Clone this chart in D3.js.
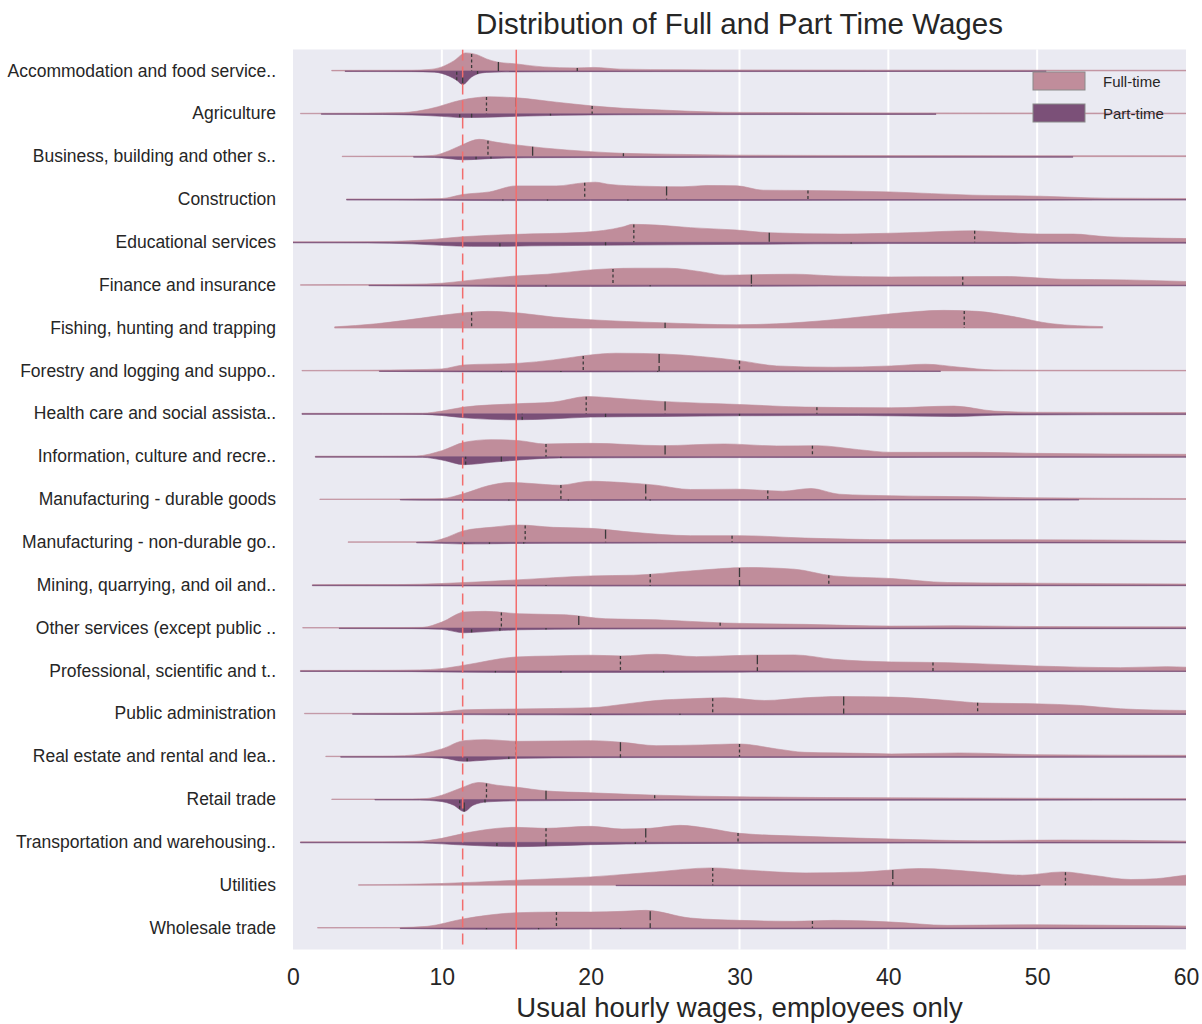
<!DOCTYPE html>
<html><head><meta charset="utf-8">
<script src="https://cdn.jsdelivr.net/npm/d3@7/dist/d3.min.js"></script>
<style>
html,body{margin:0;padding:0;background:#fff;}
svg{display:block;font-family:Arial,"Liberation Sans",Helvetica,sans-serif;}
</style></head>
<body><svg id="chart" width="1202" height="1024"></svg>
<script>
const categories = [
  "Accommodation and food service..","Agriculture","Business, building and other s..","Construction",
  "Educational services","Finance and insurance","Fishing, hunting and trapping","Forestry and logging and suppo..",
  "Health care and social assista..","Information, culture and recre..","Manufacturing - durable goods",
  "Manufacturing - non-durable go..","Mining, quarrying, and oil and..","Other services (except public ..",
  "Professional, scientific and t..","Public administration","Real estate and rental and lea..",
  "Retail trade","Transportation and warehousing..","Utilities","Wholesale trade"
];
const seriesNames = ["Full-time","Part-time"];
const xTicks = [0,10,20,30,40,50,60];
const minimumWage = 11.4;
const livingWage = 15;

// Full-time density profiles: [wage, density] knots (upper half)
const fullTimeDensity = [
  [[2.6,0.6],[8,0.7],[9.2,1.5],[10,4],[10.8,10],[11.6,18],[12.4,16],[13,12],[13.7,9],[15,7],[16.8,4],[19,3],[20.2,3.5],[22,1.8],[26,1.2],[30,1],[40,0.8],[60,0.7]],
  [[0.5,0.5],[5,0.7],[7.4,1.2],[9.2,5],[11.4,14],[13.2,17],[15,16],[17.7,11.6],[20,8],[22.2,5.5],[24.4,4],[26.7,2.5],[28.9,1.5],[35,1.1],[45,0.9],[60,0.7]],
  [[3.3,0.5],[8,0.6],[9.4,1.2],[10.5,6],[11.4,12],[12.5,17.3],[13.7,14.3],[15,11.7],[16.8,8.7],[20,5],[22.2,3.3],[25,2.5],[30,1.5],[40,1.1],[60,0.9]],
  [[3.6,0.6],[8,0.6],[10,1],[11.4,5],[13.2,7.6],[15,13.6],[17.7,13.6],[19.5,16.6],[20.3,17.3],[21.3,15],[23.5,13.3],[26.2,12.7],[27.8,14],[29.8,13.7],[31.6,9.3],[34.5,9],[40.1,7.6],[45.7,4.3],[50.2,3.3],[54.7,1.3],[60,1]],
  [[0,0.5],[4,0.6],[6.5,0.9],[9,2.5],[11.4,5.6],[15,8],[19.5,10],[22.2,15.6],[22.8,18],[24.4,17.3],[26.7,14.7],[29.8,12.3],[32,9.6],[36.8,8.3],[41.3,9.6],[45.7,11.6],[47,10.6],[50.2,8.3],[52.4,8.3],[54.7,5.6],[59.1,4],[60,3.8]],
  [[0.5,0.5],[5,0.6],[8,1],[10,2],[11.5,4.3],[15,9.3],[17.1,11],[20,15.3],[22.9,17],[25.2,17],[27.5,13.3],[29,10],[31,10.5],[33.7,11],[36.3,9.3],[40.2,8.3],[44,8.5],[47.9,8.7],[51.7,6],[56,5.3],[60,3.7]],
  [[2.8,1.2],[5.6,4.3],[7.5,7.7],[10,12.7],[11.5,15.3],[13.1,16.7],[15.2,15],[17.5,11],[20,8.3],[24.8,5.3],[29.8,3.3],[32.5,4.3],[36.3,8.3],[40.2,14.3],[43.7,17.7],[46,16.7],[48.3,11.7],[51,4.3],[54.4,1.5]],
  [[0.6,0.5],[5,0.7],[8,1.2],[10,2],[11.5,6],[15.2,7.7],[17.5,11],[20,16],[21.7,17.7],[24.8,17],[27.5,14.3],[30,10.3],[32.5,5],[36.3,3.7],[40.2,5],[42.5,6.7],[44.8,3.7],[47.1,1],[50,0.7],[60,0.6]],
  [[0.6,0.5],[6,0.5],[8.7,0.6],[10,2.7],[11.5,6.7],[15,10],[17.5,11.7],[19.8,17.3],[21.3,16],[24.8,12.3],[30,9.3],[34.4,6.7],[40.2,6],[44.4,7.7],[47.1,2.7],[49.8,1.5],[60,1.2]],
  [[1.5,0.5],[6,0.5],[8.3,0.7],[10,6],[11.5,14.3],[13.3,17],[15.2,16],[16.9,12.7],[20,13.3],[24.8,11],[29,12.7],[32.5,10.7],[35.2,11],[38,7],[40.2,4.3],[46,4.3],[49.8,3.3],[60,2.3]],
  [[1.8,0.5],[7.2,0.6],[9,0.7],[10,1],[11.5,6],[13.1,13.7],[14.6,17],[16,16],[17.9,14.3],[20,18.3],[22.1,17],[24.4,14.3],[26.7,10],[29.8,10.3],[32.9,8.3],[34.8,11],[36.7,5.3],[40.2,3.7],[46,2.7],[49.8,1.7],[60,1]],
  [[3.7,0.5],[8.3,0.6],[9.3,1],[10,3.3],[11.5,11.7],[13.3,15],[15.2,17.3],[17.5,15],[20,14],[22.9,10],[26.7,6.7],[30,6.7],[34.4,4.3],[40.2,2.7],[48.3,2.7],[60,1.7]],
  [[1.3,0.5],[7,0.6],[10,1.7],[15,5.3],[20,9.3],[22.9,10],[26.7,14.3],[30.6,17.7],[33.7,16],[36.3,9.3],[40.2,6.7],[44,2.7],[49.8,2],[60,1.2]],
  [[0.65,0.5],[3.1,0.5],[7,0.5],[8.7,0.7],[10,6],[11.5,16],[12.9,16.7],[15.2,14.3],[18.3,13.3],[21,9.3],[24.4,8.3],[29,5],[34.4,3.7],[40.2,2],[44.4,2.3],[50,1.5],[60,1.2]],
  [[0.5,0.5],[6,0.6],[8.5,1],[10,2.3],[11.5,5.7],[15,14],[17.5,15],[20,15.7],[22.1,15],[24.4,16.7],[27.1,14.3],[30.6,15.7],[33.7,16],[36.3,11.7],[40.2,9],[44,8.3],[49.8,5],[55.6,3.3],[58.7,4.3],[60,3.7]],
  [[0.77,0.5],[4,0.5],[8,0.8],[10,1.7],[11.5,4],[15,4.8],[20,6],[22.1,9.3],[24.4,13.3],[26.7,15],[29,16],[31.7,13.3],[34.4,16],[36.7,17.3],[40.2,16.7],[44,13.3],[46.3,10.7],[49.8,10],[52.9,8.3],[55.6,5],[60,3.3]],
  [[2.2,0.5],[3.2,0.5],[6,0.6],[7.5,1],[10,7.7],[11.5,16],[12.9,17],[15.2,15.3],[20,16],[22.1,14.3],[24.4,11],[27.5,11.7],[30,12.7],[32.5,7.7],[34.4,4.3],[38.3,3.3],[40.2,2.7],[44.8,3.7],[49.8,2],[60,1.3]],
  [[2.6,0.5],[5.5,0.5],[8,0.6],[9,1],[10,4.3],[11.2,11],[12.5,17],[13.7,14.3],[15.2,12],[16.9,8.7],[20,6.7],[24.4,4.3],[30,2.7],[40.2,1.7],[60,1]],
  [[0.5,0.5],[6,0.6],[8.3,1],[10,4],[11.5,9],[15,15],[16.9,14],[20,16],[22.1,13.3],[24,14],[26,17],[27.9,14],[30,9],[34.4,6],[40.2,3.3],[46,1.7],[51.7,2.3],[60,1.3]],
  [[4.4,0.5],[7,0.8],[10,1.7],[15,5],[20,8.3],[24.4,13.3],[28.1,17.3],[30.6,15],[34.4,12.3],[38.3,13.3],[42.1,16.7],[46,13.3],[49,10],[51.7,13.3],[53.7,10],[56.3,5.7],[58,6.5],[60,10],[62,12]],
  [[1.65,0.5],[7.2,0.6],[9,1.7],[11.5,9.3],[15,15.3],[17.7,16],[20,16],[22.1,16.7],[23.7,17.7],[26.7,10],[30,7.7],[33.7,6.7],[36.3,7.7],[40.2,6],[44,2.7],[49.8,3.3],[55.6,2.7],[60,2]]
];

// Part-time density profiles: [wage, density] knots (lower half)
const partTimeDensity = [
  [[3.5,0.6],[8,0.7],[9.5,1.2],[10,2.5],[11,9.3],[11.4,13.6],[12,6],[12.4,3],[13,1.5],[14,1],[20,0.7],[50.6,0.5]],
  [[1.9,0.5],[6,0.7],[8,1.2],[10,2.5],[11.5,3.8],[13,3.5],[15,2.5],[18,1.5],[22,1],[30,0.8],[43.2,0.6]],
  [[8.1,0.5],[9.5,0.8],[10.5,2],[11.5,3.2],[12.5,2.5],[14,1.5],[17,1],[25,0.8],[52.4,0.6]],
  [[3.6,0.6],[10,0.8],[14,1.1],[20,1],[30,0.9],[45,0.7],[60,0.6]],
  [[0,0.5],[5,0.6],[8,1.5],[10,3],[12,4],[14,4],[16,3.5],[20,3],[25,2.5],[30,2],[35,1.5],[40,1.2],[50,1],[60,0.8]],
  [[5.1,0.5],[10,0.9],[15,1.2],[20,1.2],[30,1],[40,0.8],[60,0.6]],
  null,
  [[5.8,0.5],[10,0.8],[15,1],[20,1],[30,0.8],[43.5,0.6]],
  [[0.6,0.5],[6,0.5],[8.7,0.6],[10,1.7],[11.5,4],[15,6],[17.5,5],[20,3.3],[24.8,2.7],[30,2],[38,1.7],[44.4,2.7],[47.9,1.2],[60,0.8]],
  [[1.5,0.5],[6,0.5],[8.7,0.7],[10,3.3],[11.5,8],[13.3,5.7],[15.2,3.3],[17.9,1.3],[25,1],[40,0.8],[60,0.6]],
  [[7.2,0.5],[10,0.8],[15,1.1],[20,1],[30,0.8],[52.8,0.6]],
  [[8.3,0.5],[10,1],[11.5,1.6],[13,1.5],[15,1.1],[20,0.9],[30,0.7],[60,0.6]],
  [[1.3,0.5],[10,0.7],[20,0.9],[30,0.8],[45,0.6],[60,0.5]],
  [[3.1,0.5],[8,0.6],[10,1.3],[11.5,4.7],[13.1,3.3],[15.2,1.7],[20,1],[30,0.8],[60,0.6]],
  [[0.5,0.5],[8,0.7],[10,1.1],[15,1.6],[20,1.5],[30,1.2],[40,0.9],[60,0.6]],
  [[4,0.5],[10,0.8],[15,1],[20,1.1],[30,1],[45,0.8],[60,0.6]],
  [[3.2,0.5],[8,0.6],[10,1.3],[11.5,4.7],[13.1,3.3],[15.2,1.7],[20,1],[30,0.8],[60,0.6]],
  [[5.5,0.5],[8.5,0.6],[9.8,1.7],[10.8,5.7],[11.5,12],[12.1,5.7],[13.1,2.3],[15.2,1.3],[25,0.8],[60,0.6]],
  [[0.5,0.5],[6,0.5],[8.7,0.7],[11.5,2.7],[15,4.3],[17.1,3.7],[20,2.3],[24.8,1.3],[35,0.8],[60,0.6]],
  [[21.7,0.5],[30,0.7],[40,0.7],[50.2,0.5]],
  [[7.2,0.5],[10,0.9],[13,1.3],[16,1.1],[20,0.9],[30,0.8],[60,0.6]]
];

// Quartiles [Q1, median, Q3]
const fullTimeQuartiles = [
  [12.0,13.8,19.1],[13.0,15.0,20.1],[13.1,16.1,22.2],[19.6,25.1,34.6],[22.9,32.0,45.8],[21.5,30.8,45.0],
  [12.0,25.0,45.1],[19.5,24.6,30.0],[19.7,25.0,35.2],[17.0,25.0,34.9],[18.0,23.7,31.9],[15.6,21.0,29.5],
  [24.0,30.0,36.0],[14.0,19.2,28.7],[22.0,31.2,43.0],[28.2,37.0,46.0],[15.0,22.0,30.0],[13.0,17.0,24.3],
  [17.0,23.7,29.9],[28.2,40.3,51.9],[17.7,24.0,34.9]
];
const partTimeQuartiles = [
  [11.0,11.4,12.4],[11.2,12.0,17.3],[11.4,12.3,13.3],[14.1,17.1,22.5],[13.9,21.0,37.5],[17.0,24.0,30.8],
  null,[14.0,18.0,24.5],[15.4,21.0,30.0],[11.6,14.0,18.0],[14.5,18.5,24.0],[11.5,13.2,15.5],
  [17.0,24.0,30.0],[12.0,13.9,17.0],[13.6,18.0,24.9],[14.5,20.0,26.0],[11.7,14.5,22.0],[11.2,11.5,12.9],
  [13.7,17.0,23.0],null,[13.0,16.5,22.0]
];

const colors = {"Full-time":"#c08d9b","Part-time":"#7b5078"};
const M = {left:293,right:1186,top:49.5,bottom:949.5};

const svg = d3.select("#chart");
const x = d3.scaleLinear().domain([0,60]).range([M.left,M.right]);
const y = d3.scaleBand().domain(categories).range([M.top,M.bottom]);
const w = d3.scaleLinear().domain([0,20]).range([0,y.bandwidth()*0.4667]);

// background
svg.append("rect").attr("x",M.left).attr("y",M.top).attr("width",M.right-M.left).attr("height",M.bottom-M.top).attr("fill","#eaeaf2");
svg.append("defs").append("clipPath").attr("id","clip").append("rect")
  .attr("x",M.left).attr("y",M.top).attr("width",M.right-M.left).attr("height",M.bottom-M.top);

// grid
svg.append("g").selectAll("line").data(xTicks.filter(t=>t>0&&t<60)).join("line")
  .attr("x1",d=>x(d)).attr("x2",d=>x(d)).attr("y1",M.top).attr("y2",M.bottom)
  .attr("stroke","#fff").attr("stroke-width",2);

const plot = svg.append("g").attr("clip-path","url(#clip)");

function densAt(knots,v){
  if(v<=knots[0][0]) return knots[0][1];
  for(let i=1;i<knots.length;i++){
    if(v<=knots[i][0]){
      const a=knots[i-1],b=knots[i];
      return a[1]+(b[1]-a[1])*(v-a[0])/(b[0]-a[0]);
    }
  }
  return knots[knots.length-1][1];
}

categories.forEach((cat,i)=>{
  const base = y(cat)+y.bandwidth()/2;
  const halves = [
    {name:"Full-time",knots:fullTimeDensity[i],q:fullTimeQuartiles[i],dir:-1},
    {name:"Part-time",knots:partTimeDensity[i],q:partTimeQuartiles[i],dir:1}
  ];
  halves.forEach(h=>{
    if(!h.knots) return;
    const area = d3.area().x(d=>x(d[0])).y0(base).y1(d=>base+h.dir*w(d[1])).curve(d3.curveMonotoneX);
    plot.append("path").datum(h.knots).attr("d",area)
      .attr("fill",colors[h.name]).attr("stroke",colors[h.name]).attr("stroke-width",0.6);
  });
  halves.forEach(h=>{
    if(!h.knots||!h.q) return;
    h.q.forEach((qv,k)=>{
      const len = w(densAt(h.knots,qv));
      plot.append("line").attr("x1",x(qv)).attr("x2",x(qv))
        .attr("y1",base+h.dir*len).attr("y2",base)
        .attr("stroke","#3a3a3a").attr("stroke-width",1.3)
        .attr("stroke-dasharray",k===1?"9,3":"3,2.5");
    });
  });
});

// reference lines
plot.append("line").attr("x1",x(minimumWage)).attr("x2",x(minimumWage)).attr("y1",M.top).attr("y2",M.bottom)
  .attr("stroke","#f26d6d").attr("stroke-width",1.5).attr("stroke-dasharray","11,6");
plot.append("line").attr("x1",x(livingWage)).attr("x2",x(livingWage)).attr("y1",M.top).attr("y2",M.bottom)
  .attr("stroke","#f26d6d").attr("stroke-width",1.5);

// axes
const xAxis = svg.append("g").attr("transform",`translate(0,${M.bottom})`)
  .call(d3.axisBottom(x).tickValues(xTicks).tickSize(0).tickPadding(19).tickFormat(d3.format("d")));
xAxis.select(".domain").remove();
xAxis.selectAll("text").attr("font-size",23).attr("fill","#262626").attr("font-family","Arial,'Liberation Sans',sans-serif");

const yAxis = svg.append("g").attr("transform",`translate(${M.left},0)`)
  .call(d3.axisLeft(y).tickSize(0).tickPadding(17));
yAxis.select(".domain").remove();
yAxis.selectAll("text").attr("font-size",17.5).attr("fill","#262626").attr("font-family","Arial,'Liberation Sans',sans-serif");

svg.append("text").attr("x",(M.left+M.right)/2).attr("y",1017).attr("text-anchor","middle")
  .attr("font-size",27.5).attr("fill","#262626").text("Usual hourly wages, employees only");
svg.append("text").attr("x",(M.left+M.right)/2).attr("y",34).attr("text-anchor","middle")
  .attr("font-size",29.5).attr("fill","#262626").text("Distribution of Full and Part Time Wages");

// legend
const lg = svg.append("g");
seriesNames.forEach((s,i)=>{
  lg.append("rect").attr("x",1033).attr("y",72+i*32).attr("width",52).attr("height",18)
    .attr("fill",colors[s]).attr("stroke","#8a8a8a").attr("stroke-width",1);
  lg.append("text").attr("x",1103).attr("y",87+i*32).attr("font-size",15).attr("fill","#262626").text(s);
});
</script></body></html>
